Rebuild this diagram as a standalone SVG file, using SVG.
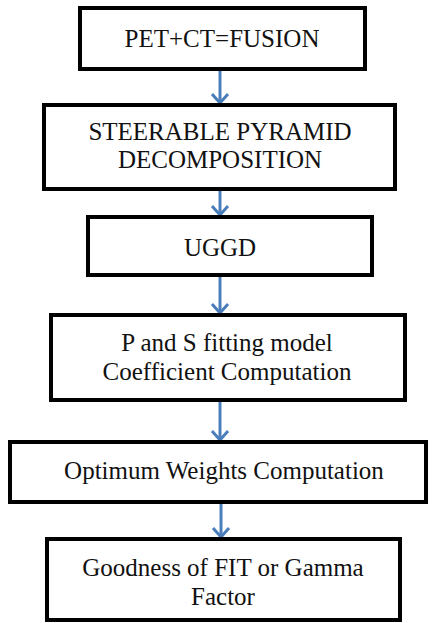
<svg xmlns="http://www.w3.org/2000/svg" width="435" height="623" viewBox="0 0 435 623">
<style>
.box{fill:#fff;stroke:#000;stroke-width:4}
.t{font-family:'Liberation Serif','Times New Roman',serif;font-size:25px;fill:#111;text-anchor:middle}
.c{stroke:#4a7ebb;stroke-width:3;fill:none}
</style>
<rect width="435" height="623" fill="#fff"/>
<g id="connectors">
<line class="c" x1="220" y1="71" x2="220" y2="103"/>
<path class="c" d="M212,94 L220,103 L228,94"/>
<line class="c" x1="220" y1="191" x2="220" y2="215"/>
<path class="c" d="M212,206 L220,215 L228,206"/>
<line class="c" x1="220" y1="277" x2="220" y2="313"/>
<path class="c" d="M212,304 L220,313 L228,304"/>
<line class="c" x1="220" y1="402" x2="220" y2="440"/>
<path class="c" d="M212,431 L220,440 L228,431"/>
<line class="c" x1="221" y1="504" x2="221" y2="537"/>
<path class="c" d="M213,528 L221,537 L229,528"/>
</g>
<g id="n1"><rect class="box" x="80" y="8" width="285" height="61"/><text class="t" x="222" y="47">PET+CT=FUSION</text></g>
<g id="n2"><rect class="box" x="44" y="105" width="351" height="84"/><text class="t" x="220" y="140">STEERABLE PYRAMID</text><text class="t" x="220" y="168">DECOMPOSITION</text></g>
<g id="n3"><rect class="box" x="88" y="217" width="284" height="58"/><text class="t" x="220" y="256">UGGD</text></g>
<g id="n4"><rect class="box" x="51" y="315" width="354" height="85"/><text class="t" x="227" y="351">P and S fitting model</text><text class="t" x="227" y="380">Coefficient Computation</text></g>
<g id="n5"><rect class="box" x="10" y="442" width="416" height="60"/><text class="t" x="224" y="479">Optimum Weights Computation</text></g>
<g id="n6"><rect class="box" x="47" y="539" width="353" height="81"/><text class="t" x="223" y="576">Goodness of FIT or Gamma</text><text class="t" x="223" y="605">Factor</text></g>
</svg>
